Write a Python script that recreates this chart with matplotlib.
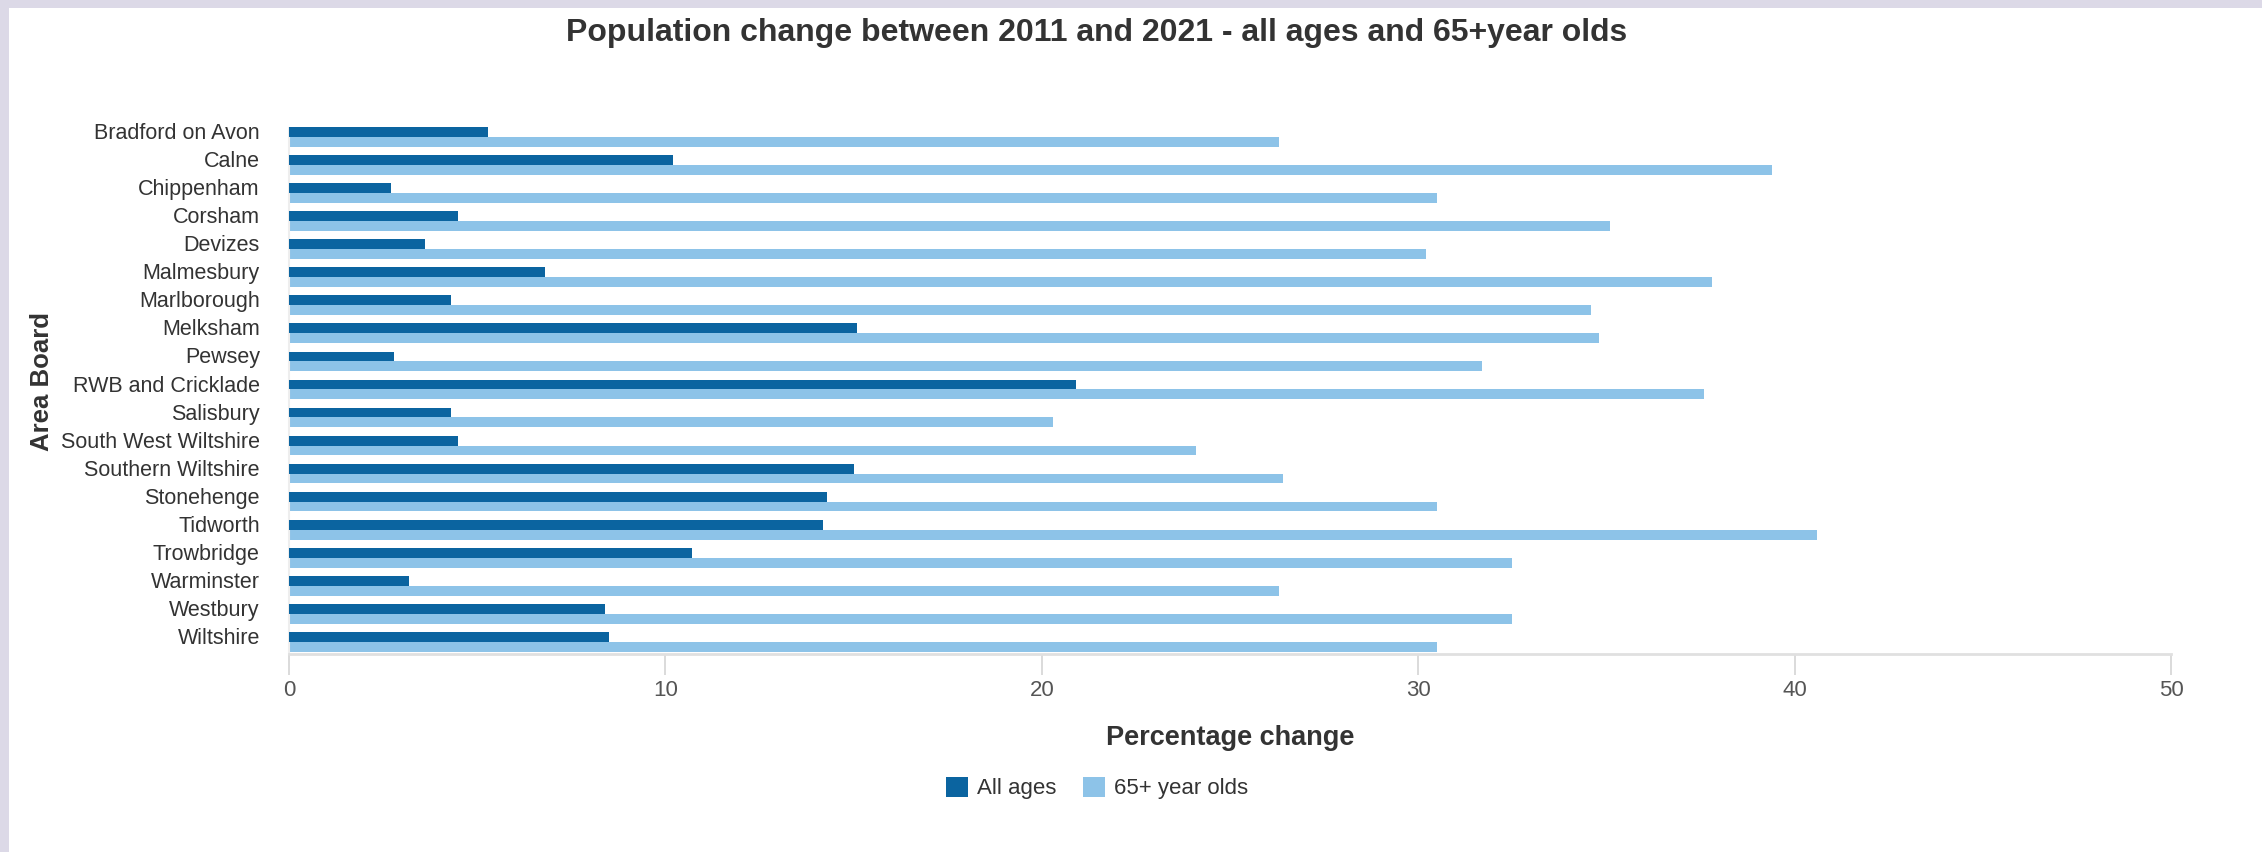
import matplotlib.pyplot as plt
import matplotlib.patches as mpatches
import numpy as np

# chart data
areas = ['Bradford on Avon', 'Calne', 'Chippenham', 'Corsham', 'Devizes',
         'Malmesbury', 'Marlborough', 'Melksham', 'Pewsey', 'RWB and Cricklade',
         'Salisbury', 'South West Wiltshire', 'Southern Wiltshire', 'Stonehenge',
         'Tidworth', 'Trowbridge', 'Warminster', 'Westbury', 'Wiltshire']
all_ages = [5.3, 10.2, 2.7, 4.5, 3.6, 6.8, 4.3, 15.1, 2.8, 20.9,
            4.3, 4.5, 15.0, 14.3, 14.2, 10.7, 3.2, 8.4, 8.5]
over_65 = [26.3, 39.4, 30.5, 35.1, 30.2, 37.8, 34.6, 34.8, 31.7, 37.6,
           20.3, 24.1, 26.4, 30.5, 40.6, 32.5, 26.3, 32.5, 30.5]
xticks = [0, 10, 20, 30, 40, 50]

dark = '#0b64a0'
light = '#8dc3e8'
txt = '#333333'
W, H = 2262, 852

plt.rcParams['font.family'] = ['Liberation Sans', 'DejaVu Sans']

fig = plt.figure(figsize=(W / 100, H / 100), dpi=100)
fig.patch.set_facecolor('#dcd9e7')
# white chart panel (lavender strip top and left)
fig.patches.append(mpatches.Rectangle((9 / W, 0), 1, 1 - 8 / H, transform=fig.transFigure,
                                      facecolor='white', edgecolor='none', zorder=-5))

ax = fig.add_axes([289 / W, 1 - 654 / H, (2171 - 289) / W, (654 - 117) / H])
ax.set_facecolor('none')
ax.set_zorder(2)

y = np.arange(len(areas))
h = 0.35
off = 0.21
ax.barh(y - h / 2 + off, all_ages, height=h, color=dark, label='All ages', zorder=3)
ax.barh(y + h / 2 + off, over_65, height=h, color=light, label='65+ year olds', zorder=2)

ax.set_ylim(len(areas) - 1 + 0.64, -0.5)
ax.set_xlim(0, 50)
ax.set_yticks(y)
ax.set_yticklabels(areas, fontsize=15.5, color=txt)
ax.set_xticks(xticks)
ax.set_xticklabels([str(t) for t in xticks], fontsize=16, color='#555555')
ax.tick_params(axis='y', length=0, pad=21)
ax.tick_params(axis='x', length=15, width=1.3, color='#d8d8d8', pad=4)

for s in ['top', 'right']:
    ax.spines[s].set_visible(False)
ax.spines['bottom'].set_color('#e0e0e0')
ax.spines['bottom'].set_linewidth(2)
ax.spines['left'].set_color('#eeeeee')
ax.spines['left'].set_linewidth(1.5)
ax.spines['left'].set_bounds(len(areas) - 1 + 0.64, -0.1)

ax.set_xlabel('Percentage change', fontsize=19.5, fontweight='bold', color=txt, labelpad=17)
fig.text(42 / W, 1 - 382 / H, 'Area Board', rotation=90, ha='center', va='center',
         fontsize=18.5, fontweight='bold', color=txt)

fig.text(1097 / W, 1 - 33 / H, 'Population change between 2011 and 2021 - all ages and 65+year olds',
         ha='center', va='center', fontsize=23, fontweight='bold', color=txt)

leg = fig.legend(loc='center', bbox_to_anchor=(1097 / W, 1 - 788 / H), ncol=2, frameon=False,
                 fontsize=16, handlelength=1.0, handleheight=1.0, handletextpad=0.4,
                 columnspacing=1.2, labelcolor=txt)

fig.savefig('out.png', dpi=100)
